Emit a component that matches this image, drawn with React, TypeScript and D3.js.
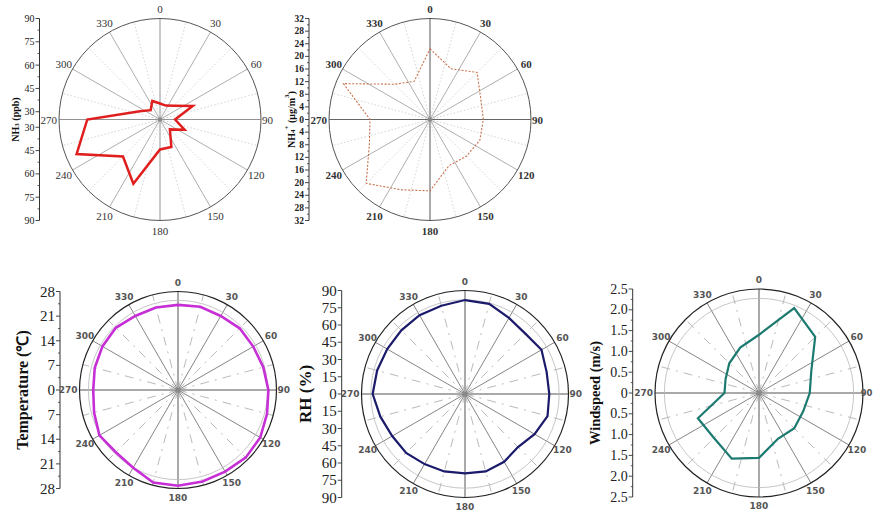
import React from 'react';
import * as d3 from 'd3';

// ---- data ----
const DIR16 = [0, 22.5, 45, 67.5, 90, 112.5, 135, 157.5, 180, 202.5, 225, 247.5, 270, 292.5, 315, 337.5];
const DIR24 = [0, 15, 30, 45, 60, 75, 90, 105, 120, 135, 150, 165, 180, 195, 210, 225, 240, 255, 270, 285, 300, 315, 330, 345];

const NH3 = [35.3, 34.7, 37.6, 47.8, 34.7, 42.1, 34.0, 44.1, 44.3, 69.8, 58.7, 83.1, 71.8, 39.0, 33.5, 37.9];
const NH4 = [22.4, 17.4, 21.1, 17.4, 16.9, 17.1, 16.4, 15.8, 22.6, 24.1, 28.6, 20.8, 19.0, 29.7, 15.8, 13.1];
const TEMP = [24.2, 24.5, 24.3, 24.8, 24.7, 25.1, 25.7, 26.2, 27.0, 27.2, 26.8, 26.9, 27.2, 27.2, 25.5, 25.0, 25.8, 24.7, 24.1, 24.5, 24.8, 25.0, 24.3, 24.3];
const RH = [81.7, 81.2, 76.4, 74.2, 76.8, 73.5, 73.3, 74.3, 69.8, 65.2, 68.1, 69.7, 69.0, 69.7, 70.4, 72.4, 73.1, 76.2, 80.3, 79.1, 78.1, 78.3, 79.1, 79.4];
const WIND = [1.40, 2.21, 1.91, 1.36, 1.22, 1.15, 1.20, 1.19, 1.56, 1.71, 1.53, 1.59, 0.83, 0.87, 1.01, 1.18];

const ANGLE_LABELS = [0, 30, 60, 90, 120, 150, 180, 210, 240, 270, 300, 330];
const NH3_TICKS = [30, 45, 60, 75, 90];
const NH4_TICKS = [0, 4, 8, 12, 16, 20, 24, 28, 32];
const TEMP_TICKS = [0, 7, 14, 21, 28];
const RH_TICKS = [0, 15, 30, 45, 60, 75, 90];
const WIND_TICKS = [0, 0.5, 1.0, 1.5, 2.0, 2.5];

const SERIF = "'Liberation Serif', 'Times New Roman', serif";
const SANS = "'DejaVu Sans', Verdana, sans-serif";
const PAGE_W = 874;

type PanelProps = {
  cx: number; cy: number; R: number;
  domain: [number, number];
  dirs: number[]; values: number[];
  color: string; width: number; dash?: string;
  kind: 'top1' | 'top2' | 'bottom';
  axisX: number;
  ticks: number[];
  minor: number[];
  fmt: (v: number) => string;
  tickFont: { size: number; weight: string };
  angleFont: { family: string; size: number; weight: string; fill: string };
  title: React.ReactNode;
  titleX: number;
  titleSize: number;
};

function Panel(p: PanelProps) {
  const { cx, cy, R } = p;
  const r = d3.scaleLinear().domain(p.domain).range([0, R]);
  const yTop = d3.scaleLinear().domain(p.domain).range([cy, cy - R]);
  const yBot = d3.scaleLinear().domain(p.domain).range([cy, cy + R]);
  const line = d3
    .lineRadial<number>()
    .angle((_, i) => (p.dirs[i] * Math.PI) / 180)
    .radius((d) => r(d))
    .curve(d3.curveLinearClosed);

  const grid = d3.range(0, 360, 15);
  const pt = (deg: number, rad: number) => {
    const a = (deg * Math.PI) / 180;
    return [cx + rad * Math.sin(a), cy - rad * Math.cos(a)];
  };

  const gridEls = grid.map((deg) => {
    const major = deg % 30 === 0;
    const cardinal = deg % 90 === 0;
    const [x2, y2] = pt(deg, R);
    if (p.kind === 'bottom') {
      return major ? (
        <line key={deg} x1={cx} y1={cy} x2={x2} y2={y2} stroke={cardinal ? '#555' : '#666'} strokeWidth={cardinal ? 1 : 0.8} />
      ) : (
        <line key={deg} x1={cx} y1={cy} x2={x2} y2={y2} stroke="#a8a8a8" strokeWidth={0.8} strokeDasharray="9,6,2,6" />
      );
    }
    if (major) {
      let stroke = cardinal ? '#777' : '#999';
      let sw = 0.8;
      if (p.kind === 'top2' && (deg === 0 || deg === 180)) { stroke = '#aaa'; sw = 2; }
      if (p.kind === 'top2' && (deg === 90 || deg === 270)) { stroke = '#666'; sw = 1; }
      return <line key={deg} x1={cx} y1={cy} x2={x2} y2={y2} stroke={stroke} strokeWidth={sw} />;
    }
    return <line key={deg} x1={cx} y1={cy} x2={x2} y2={y2} stroke="#c8c8c8" strokeWidth={0.8} strokeDasharray="1.5,2" />;
  });

  const tickEls: React.ReactNode[] = [];
  const addTick = (v: number, y: number, key: string) => {
    tickEls.push(<line key={'t' + key} x1={p.axisX - 4} x2={p.axisX} y1={y} y2={y} stroke="#333" strokeWidth={0.9} />);
    tickEls.push(
      <text key={'l' + key} x={p.axisX - 5} y={y} textAnchor="end" dominantBaseline="central"
        fontFamily={SERIF} fontSize={p.tickFont.size} fontWeight={p.tickFont.weight} fill="#222">
        {p.fmt(v)}
      </text>
    );
  };
  p.ticks.forEach((v, i) => {
    addTick(v, yTop(v), 'a' + i);
    if (Math.abs(yBot(v) - yTop(v)) > 0.5) addTick(v, yBot(v), 'b' + i);
  });
  p.minor.forEach((v, i) => {
    tickEls.push(<line key={'ma' + i} x1={p.axisX - 2} x2={p.axisX} y1={yTop(v)} y2={yTop(v)} stroke="#333" strokeWidth={0.8} />);
    tickEls.push(<line key={'mb' + i} x1={p.axisX - 2} x2={p.axisX} y1={yBot(v)} y2={yBot(v)} stroke="#333" strokeWidth={0.8} />);
  });

  const labOff = p.kind === 'bottom' ? 9 : 10;
  const angleEls = ANGLE_LABELS.map((deg) => {
    let [x, y] = pt(deg, R + labOff);
    let anchor: 'middle' | 'start' | 'end' = 'middle';
    let size = p.angleFont.size;
    if (deg === 90) {
      x = cx + R + 1; anchor = 'start';
      if (x + 14 > PAGE_W) { x = PAGE_W - 1.5; anchor = 'end'; size = size - 0.5; }
    }
    if (deg === 270) { x = cx - R - 2; anchor = 'end'; }
    return (
      <text key={deg} x={x} y={y} textAnchor={anchor} dominantBaseline="central"
        fontFamily={p.angleFont.family} fontSize={size} fontWeight={p.angleFont.weight} fill={p.angleFont.fill}>
        {deg}
      </text>
    );
  });

  return (
    <g>
      {gridEls}
      {p.kind === 'bottom' && <circle cx={cx} cy={cy} r={R * 0.91} fill="none" stroke="#b8b8b8" strokeWidth={0.8} />}
      <circle cx={cx} cy={cy} r={R} fill="none" stroke={p.kind === 'bottom' ? '#222' : '#555'} strokeWidth={p.kind === 'bottom' ? 1.2 : 1} />
      <circle cx={cx} cy={cy} r={2.2} fill="#888" />
      <path transform={`translate(${cx},${cy})`} d={line(p.values) || ''} fill="none" stroke={p.color}
        strokeWidth={p.width} strokeDasharray={p.dash} strokeLinejoin="miter" />
      <line x1={p.axisX} x2={p.axisX} y1={cy - R} y2={cy + R} stroke="#333" strokeWidth={1} />
      {tickEls}
      {angleEls}
      <text transform={`translate(${p.titleX},${cy}) rotate(-90)`} textAnchor="middle" dominantBaseline="central"
        fontFamily={SERIF} fontWeight="bold" fontSize={p.titleSize} fill="#111">
        {p.title}
      </text>
    </g>
  );
}

const mids = (t: number[]) => t.slice(1).map((v, i) => (v + t[i]) / 2);

export default function App() {
  const topAngle = { family: SERIF, size: 11, weight: 'normal', fill: '#333' };
  const top2Angle = { family: SERIF, size: 11, weight: 'bold', fill: '#333' };
  const botAngle = { family: SANS, size: 9, weight: 'bold', fill: '#555' };
  return (
    <svg width={874} height={513} style={{ position: 'absolute', left: 0, top: 0, background: '#fff' }}>
      <rect width={874} height={513} fill="#fff" />
      <Panel cx={160} cy={119.5} R={101} domain={[25, 90]} dirs={DIR16} values={NH3}
        color="#e01e1e" width={2.5} kind="top1" axisX={39.5}
        ticks={NH3_TICKS} minor={mids(NH3_TICKS)} fmt={(v) => String(v)}
        tickFont={{ size: 10, weight: 'normal' }} angleFont={topAngle}
        title={<>NH<tspan dy={2} fontSize={7}>3</tspan><tspan dy={-2}> (ppb)</tspan></>}
        titleX={15} titleSize={10} />
      <Panel cx={430} cy={119.5} R={101} domain={[0, 32]} dirs={DIR16} values={NH4}
        color="#c8704a" width={1.1} dash="2,1.6" kind="top2" axisX={309}
        ticks={NH4_TICKS} minor={mids(NH4_TICKS)} fmt={(v) => String(v)}
        tickFont={{ size: 9.5, weight: 'bold' }} angleFont={top2Angle}
        title={<>NH<tspan dy={2} fontSize={7}>4</tspan><tspan dy={-6} fontSize={7}>+</tspan><tspan dy={4}> (μg/m</tspan><tspan dy={-4} fontSize={7}>3</tspan><tspan dy={4}>)</tspan></>}
        titleX={291} titleSize={10} />
      <Panel cx={178} cy={390} R={98.5} domain={[0, 28]} dirs={DIR24} values={TEMP}
        color="#c72fd6" width={2.6} kind="bottom" axisX={60}
        ticks={TEMP_TICKS} minor={mids(TEMP_TICKS)} fmt={(v) => String(v)}
        tickFont={{ size: 15, weight: 'normal' }} angleFont={botAngle}
        title={<>Temperature (℃)</>} titleX={22} titleSize={16} />
      <Panel cx={465} cy={394} R={103.5} domain={[0, 90]} dirs={DIR24} values={RH}
        color="#1b1a6b" width={2.2} kind="bottom" axisX={341.7}
        ticks={RH_TICKS} minor={[]} fmt={(v) => String(v)}
        tickFont={{ size: 15, weight: 'normal' }} angleFont={botAngle}
        title={<>RH (%)</>} titleX={305} titleSize={17} />
      <Panel cx={759} cy={393} R={104} domain={[0, 2.5]} dirs={DIR16} values={WIND}
        color="#1d7a70" width={2.2} kind="bottom" axisX={632.7}
        ticks={WIND_TICKS} minor={mids(WIND_TICKS)} fmt={(v) => (v === 0 ? '0' : v.toFixed(1))}
        tickFont={{ size: 14, weight: 'normal' }} angleFont={botAngle}
        title={<>Windspeed (m/s)</>} titleX={595} titleSize={14.5} />
    </svg>
  );
}
